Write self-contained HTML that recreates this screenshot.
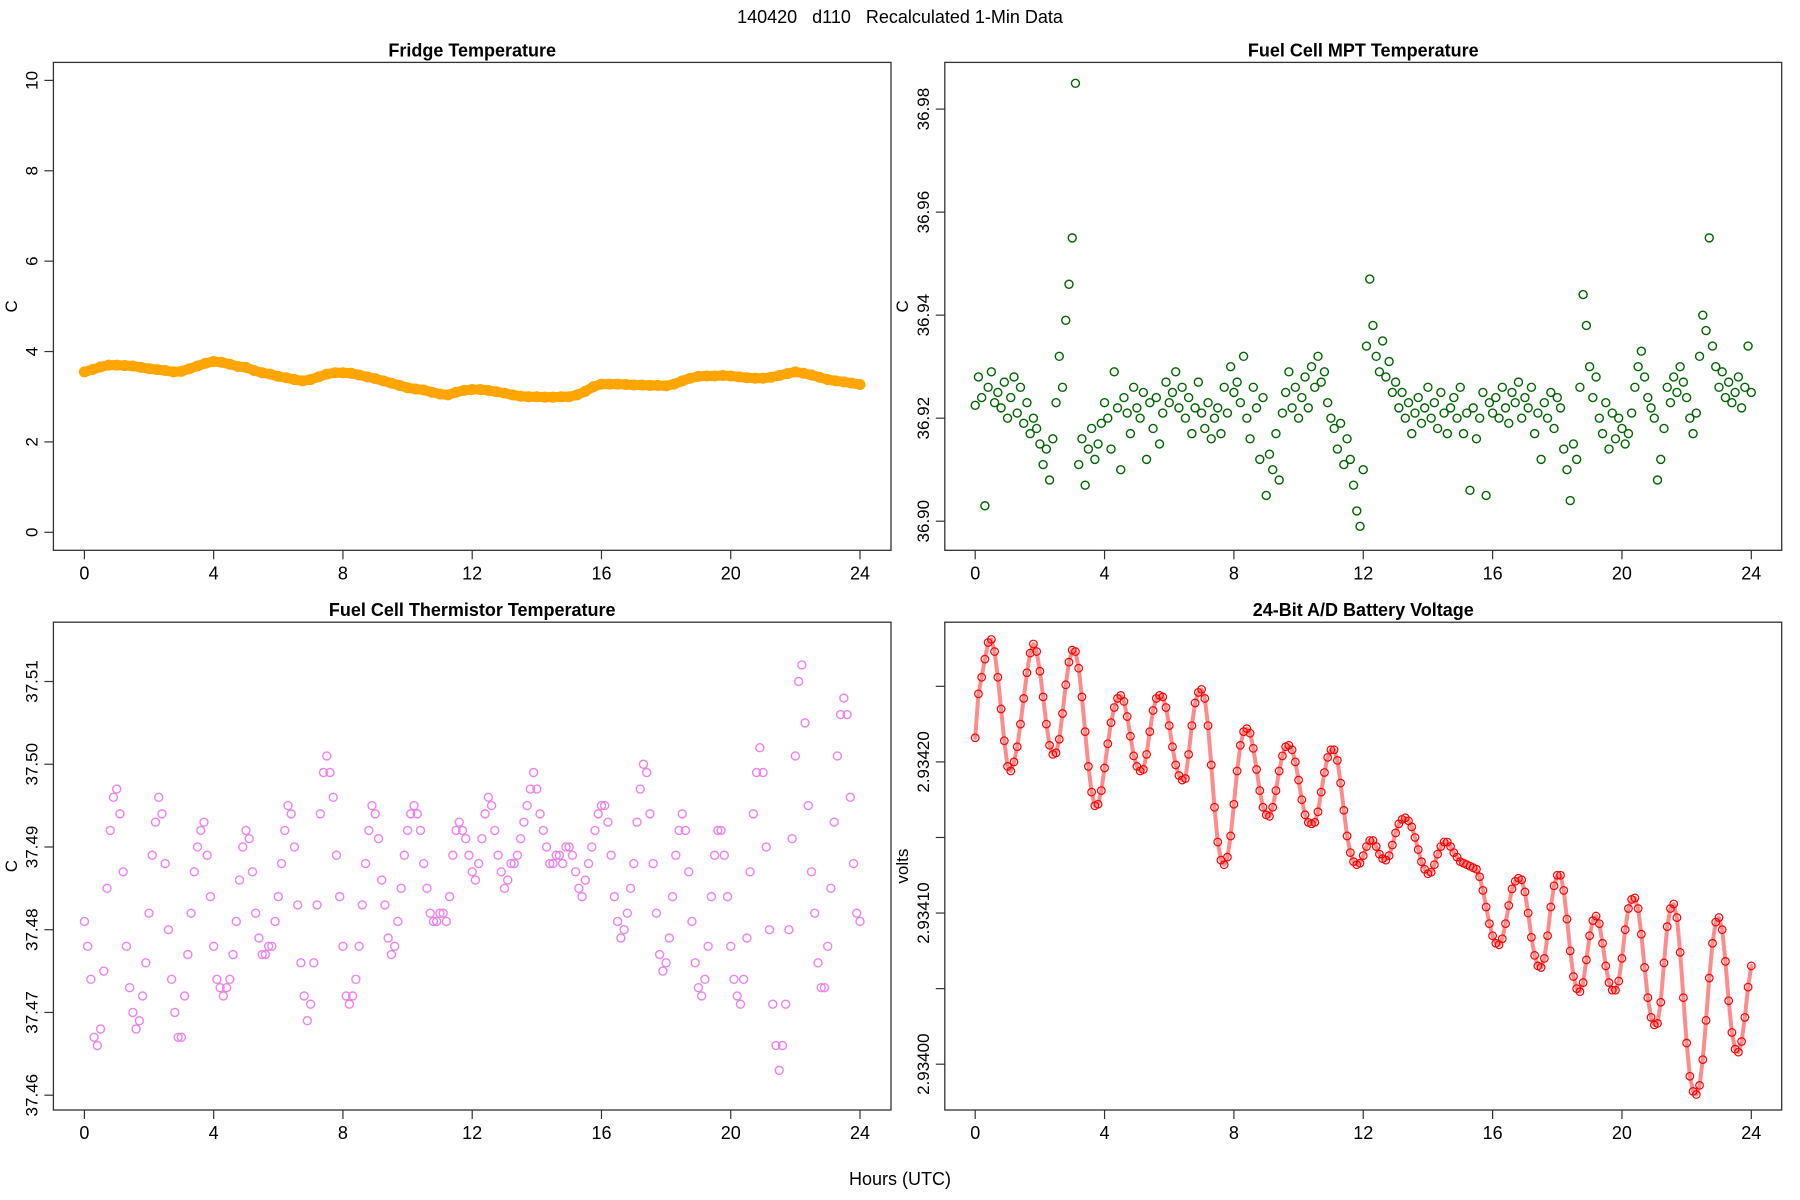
<!DOCTYPE html>
<html><head><meta charset="utf-8"><style>
html,body{margin:0;padding:0;background:#fff;width:1800px;height:1200px;overflow:hidden}
svg{display:block}
text{font-family:"Liberation Sans Narrow","Liberation Sans",sans-serif}
</style></head><body>
<svg id="chart" width="1800" height="1200" viewBox="0 0 1800 1200" xmlns="http://www.w3.org/2000/svg">
<rect x="0" y="0" width="1800" height="1200" fill="#fff"/>
<text x="900" y="23" text-anchor="middle" font-size="18" style="white-space:pre" xml:space="preserve">140420   d110   Recalculated 1-Min Data</text>
<text x="900" y="1185" text-anchor="middle" font-size="18">Hours (UTC)</text>
</svg>
<script>
// Fridge temperature, C (0.25 h steps over 0..24 h)
const fridgeTemp = [3.55,3.60,3.66,3.70,3.70,3.69,3.68,3.65,3.62,3.60,3.58,3.55,3.56,3.62,3.68,3.74,3.78,3.76,3.72,3.67,
 3.65,3.58,3.53,3.50,3.45,3.42,3.38,3.35,3.38,3.44,3.50,3.53,3.53,3.52,3.48,3.44,3.40,3.35,3.30,3.25,
 3.20,3.17,3.15,3.10,3.06,3.04,3.10,3.14,3.16,3.16,3.14,3.11,3.08,3.04,3.01,3.00,3.00,2.99,2.99,3.00,
 3.00,3.04,3.12,3.22,3.28,3.28,3.28,3.27,3.26,3.26,3.25,3.25,3.24,3.28,3.35,3.41,3.45,3.46,3.46,3.47,
 3.46,3.44,3.42,3.41,3.41,3.43,3.47,3.51,3.55,3.52,3.48,3.43,3.38,3.35,3.33,3.30,3.27];
// Fuel cell MPT temperature: offsets from 36.92 in mC (0.1 h steps)
const mptBase = 36.92;
const mptOffset = [2.5,8,4,-17,6,9,3,5,2,7,0,4,8,1,6,-1,3,-3,0,-2,-5,
 -9,-6,-12,-4,3,12,6,19,26,35,65,
 -9,-4,-13,-6,-2,-8,-5,-1,3,
 0,-6,9,2,-10,4,1,-3,6,2,
 0,5,-8,3,-2,4,-5,1,7,3,
 5,9,2,6,0,4,-3,2,7,1,
 -2,3,-4,0,2,-3,6,1,10,5,
 7,3,12,0,-4,6,2,-8,4,-15,
 -7,-10,-3,-12,1,5,9,2,6,0,
 4,8,2,10,6,12,7,9,3,0,
 -2,-6,-1,-9,-4,-8,-13,-18,-21,-10,
 14,27,18,12,9,15,8,11,5,7,
 2,5,0,3,-3,1,4,-1,2,6,
 0,3,-2,5,1,-3,2,4,0,6,
 -3,1,-14,2,-4,0,5,-15,3,1,
 4,0,6,2,-1,5,3,7,0,4,
 2,6,-3,1,-8,3,0,5,-2,4,
 2,-6,-10,-16,-5,-8,6,24,18,10,
 4,8,0,-3,3,-6,1,-4,0,-2,
 -5,-3,1,6,10,13,8,4,2,0,
 -12,-8,-2,6,3,8,5,10,7,4,
 0,-3,1,12,20,17,35,14,10,6,
 9,4,7,3,5,8,2,6,14,5];
// Fuel cell thermistor temperature: offsets from 37.48 in mC (0.1 h steps)
const thermBase = 37.48;
const thermOffset = [1,-2,-6,-13,-14,-12,-5,5,12,16,17,14,7,-2,-7,-10,-12,-11,-8,-4,
 2,9,13,16,14,8,0,-6,-10,-13,-13,-8,-3,2,7,10,12,13,9,4,
 -2,-6,-7,-8,-7,-6,-3,1,6,10,12,11,7,2,-1,-3,-3,-2,-2,1,
 4,8,12,15,14,10,3,-4,-8,-11,-9,-4,3,14,19,21,19,16,9,4,
 -2,-8,-9,-8,-6,-2,3,8,12,15,14,11,6,3,-1,-3,-2,1,5,9,
 12,14,15,14,12,8,5,2,1,1,2,2,1,4,9,12,13,12,11,9,
 7,6,8,11,14,16,15,12,9,7,5,6,8,8,9,11,13,15,17,19,
 17,14,12,10,8,8,9,9,8,10,10,9,7,5,4,6,8,10,12,14,
 15,15,13,9,4,1,-1,0,2,5,8,13,17,20,19,14,8,2,-3,-5,
 -4,-1,4,9,12,14,12,7,1,-4,-7,-8,-6,-2,4,9,12,12,9,4,
 -2,-6,-8,-9,-6,-1,7,14,19,22,19,10,0,-9,-14,-17,-14,-9,0,11,
 21,30,32,25,15,7,2,-4,-7,-7,-2,5,13,21,26,28,26,16,8,2,1];
// Battery voltage: offsets from 2.93420 V in units of 10 uV (0.1 h steps)
const battBase = 2.9342;
const battOffset = [1.6,4.5,5.6,6.8,7.9,8.1,7.3,5.6,3.5,1.4,-0.3,-0.6,0.0,1.0,2.5,4.2,5.9,7.2,7.8,7.3,
 6.0,4.3,2.5,1.1,0.5,0.6,1.5,3.2,5.1,6.6,7.4,7.3,6.2,4.3,2.0,-0.3,-2.0,-2.9,-2.8,-1.9,
 -0.4,1.2,2.6,3.6,4.2,4.4,4.0,3.0,1.7,0.4,-0.3,-0.6,-0.5,0.5,2.0,3.4,4.2,4.4,4.3,3.6,
 2.4,1.0,-0.2,-0.9,-1.2,-1.1,0.5,2.4,3.9,4.6,4.8,4.2,2.4,-0.2,-3.0,-5.3,-6.5,-6.8,-6.3,-4.9,
 -2.8,-0.6,1.1,2.0,2.2,1.9,0.9,-0.5,-1.9,-3.0,-3.5,-3.6,-3.0,-1.9,-0.6,0.4,1.0,1.1,0.8,0.0,
 -1.2,-2.5,-3.5,-4.0,-4.1,-4.0,-3.3,-2.0,-0.7,0.3,0.8,0.8,0.1,-1.4,-3.2,-4.9,-6.0,-6.6,-6.8,-6.7,
 -6.2,-5.6,-5.2,-5.2,-5.6,-6.1,-6.4,-6.5,-6.2,-5.5,-4.7,-4.1,-3.8,-3.7,-3.9,-4.3,-5.0,-5.8,-6.6,-7.1,
 -7.4,-7.3,-6.8,-6.1,-5.6,-5.3,-5.3,-5.6,-6.0,-6.3,-6.6,-6.7,-6.8,-6.9,-7.0,-7.1,-7.6,-8.5,-9.6,-10.7,
 -11.5,-12.0,-12.1,-11.7,-10.7,-9.5,-8.4,-7.9,-7.7,-7.8,-8.6,-10.0,-11.6,-12.8,-13.5,-13.6,-13.0,-11.5,-9.6,-8.2,
 -7.5,-7.5,-8.5,-10.4,-12.5,-14.2,-15.0,-15.2,-14.6,-13.1,-11.5,-10.5,-10.2,-10.7,-12.0,-13.5,-14.6,-15.1,-15.1,-14.5,
 -13.0,-11.1,-9.7,-9.1,-9.0,-9.7,-11.4,-13.6,-15.6,-16.9,-17.4,-17.3,-15.9,-13.3,-10.9,-9.7,-9.4,-10.3,-12.6,-15.6,
 -18.6,-20.8,-21.8,-22.0,-21.4,-19.7,-17.1,-14.3,-12.0,-10.6,-10.3,-11.1,-13.2,-15.8,-17.9,-19.0,-19.2,-18.5,-16.9,-14.9,-13.5];
const xTickLabels = ["0","4","8","12","16","20","24"];
const xTickValues = [0,4,8,12,16,20,24];
const fridgeTicks = [0,2,4,6,8,10];
const mptTicks = [36.90,36.92,36.94,36.96,36.98];
const thermTicks = [37.46,37.47,37.48,37.49,37.50,37.51];
const battTicks = [2.93400,2.93405,2.93410,2.93415,2.93420,2.93425];
const battTickLabels = ["2.93400","","2.93410","","2.93420",""];

const NS = "http://www.w3.org/2000/svg";
const svg = document.getElementById('chart');
function mk(tag, attrs, parent){const e=document.createElementNS(NS,tag);for(const k in attrs)e.setAttribute(k,attrs[k]);(parent||svg).appendChild(e);return e;}
function linmap(d0,d1,p0,p1){return v=>p0+(v-d0)*(p1-p0)/(d1-d0);}

function panel(cfg){
  const g = mk('g',{});
  
  
  const xs = linmap(0,24,cfg.x0,cfg.x24);
  const ys = linmap(cfg.ya,cfg.yb,cfg.pya,cfg.pyb);
  const t = mk('text',{x:(cfg.L+cfg.R)/2,y:cfg.T-6,'text-anchor':'middle','font-size':18,'font-weight':'bold'},g);
  t.textContent = cfg.title;
  
  
  const n = cfg.values.length;
  const coords = cfg.values.map((v,i)=>[xs(24*i/(n-1)), ys(v)]);
  if(cfg.line){
    const pl = mk('polyline',{points:coords.map(p=>p[0].toFixed(2)+','+p[1].toFixed(2)).join(' '),fill:'none',stroke:cfg.color,'stroke-width':cfg.line,'stroke-linejoin':'round','stroke-linecap':'round',opacity:cfg.lineOpacity||1},g);
    
    
  }
  const pts = mk('g',{},g);
  
  
  for(let i=0;i<n;i++){
    const c = mk('circle',{cx:coords[i][0].toFixed(2),cy:coords[i][1].toFixed(2),r:cfg.r,fill:'none',stroke:cfg.color,'stroke-width':cfg.sw},pts);
    
    
  }
  const box = mk('rect',{x:cfg.L,y:cfg.T,width:cfg.R-cfg.L,height:cfg.B-cfg.T,fill:'none',stroke:'#333','stroke-width':1.3},g);
  
  
  for(let i=0;i<xTickValues.length;i++){
    const x = xs(xTickValues[i]);
    const tk = mk('line',{x1:x,y1:cfg.B,x2:x,y2:cfg.B+9,stroke:'#333','stroke-width':1.2},g);
    
    
    const tl = mk('text',{x:x,y:cfg.B+29,'text-anchor':'middle','font-size':18},g);
    tl.textContent = xTickLabels[i];
    
    
  }
  for(let i=0;i<cfg.ticks.length;i++){
    const y = ys(cfg.ticks[i]);
    const tk = mk('line',{x1:cfg.L-9,y1:y,x2:cfg.L,y2:y,stroke:'#333','stroke-width':1.2},g);
    
    
    const lab = cfg.tickLabels[i];
    if(lab){
      const tl = mk('text',{x:0,y:0,'text-anchor':'middle','font-size':17,'font-family':'Liberation Sans, sans-serif',transform:`translate(${cfg.L-16},${y}) rotate(-90)`},g);
      tl.textContent = lab;
      
      
    }
  }
  const yt = mk('text',{x:0,y:0,'text-anchor':'middle','font-size':17,'font-family':'Liberation Sans, sans-serif',transform:`translate(${cfg.ytx},${(cfg.T+cfg.B)/2}) rotate(-90)`},g);
  yt.textContent = cfg.ylab;
  
  
}

panel({name:'fridge-temperature-panel',title:'Fridge Temperature',L:53.4,R:891,T:62.4,B:550.3,x0:84.4,x24:860,
  ya:0,yb:10,pya:532.3,pyb:80.4,values:fridgeTemp,color:'#FFA500',r:4,sw:3,line:10,
  ticks:fridgeTicks,tickLabels:fridgeTicks.map(String),ylab:'C',ytx:17});
panel({name:'mpt-temperature-panel',title:'Fuel Cell MPT Temperature',L:944.8,R:1781.7,T:62.4,B:550.3,x0:975.2,x24:1751.3,
  ya:36.90,yb:36.98,pya:521.2,pyb:109.1,values:mptOffset.map(d=>mptBase+d/1000),color:'#006400',r:4,sw:1.4,
  ticks:mptTicks,tickLabels:mptTicks.map(v=>v.toFixed(2)),ylab:'C',ytx:908});
panel({name:'thermistor-temperature-panel',title:'Fuel Cell Thermistor Temperature',L:53.4,R:891,T:622.2,B:1110,x0:84.4,x24:860,
  ya:37.46,yb:37.51,pya:1095.2,pyb:681.5,values:thermOffset.map(d=>thermBase+d/1000),color:'#EE82EE',r:4,sw:1.4,
  ticks:thermTicks,tickLabels:thermTicks.map(v=>v.toFixed(2)),ylab:'C',ytx:17});
panel({name:'battery-voltage-panel',title:'24-Bit A/D Battery Voltage',L:944.8,R:1781.7,T:622.2,B:1110,x0:975.2,x24:1751.3,
  ya:2.934,yb:2.9342,pya:1064.2,pyb:761.9,values:battOffset.map(d=>battBase+d*1e-5),color:'#FF0000',r:3.8,sw:1.2,line:4,lineOpacity:0.45,
  ticks:battTicks,tickLabels:battTickLabels,ylab:'volts',ytx:908});
</script>
</body></html>
